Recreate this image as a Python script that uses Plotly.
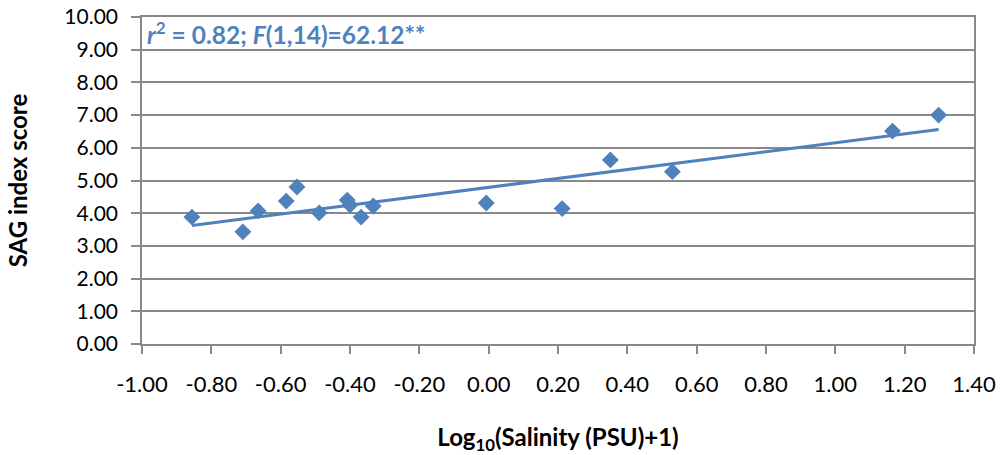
import numpy as np
import plotly.graph_objects as go

salinity_log = [-0.856, -0.709, -0.665, -0.584, -0.553, -0.489, -0.408, -0.400, -0.368, -0.333,
                -0.007, 0.212, 0.351, 0.530, 1.165, 1.298]
sag_score = [3.88, 3.43, 4.07, 4.37, 4.80, 4.01, 4.40, 4.25, 3.88, 4.22,
             4.31, 4.14, 5.63, 5.27, 6.51, 7.00]

x_ticks = [-1.0, -0.8, -0.6, -0.4, -0.2, 0.0, 0.2, 0.4, 0.6, 0.8, 1.0, 1.2, 1.4]
y_ticks = [0, 1, 2, 3, 4, 5, 6, 7, 8, 9, 10]
stat_text = "<b><i>r</i><sup>2</sup> = 0.82; <i>F</i>(1,14)=62.12**</b>"

BLUE = "#4F81BD"
GRID = "#898989"
FONT = "Lato, Open Sans, sans-serif"

slope, intercept = np.polyfit(salinity_log, sag_score, 1)
trend_x = [min(salinity_log), max(salinity_log)]
trend_y = [slope * v + intercept for v in trend_x]

fig = go.Figure()
fig.add_trace(go.Scatter(x=trend_x, y=trend_y, mode="lines",
                         line=dict(color=BLUE, width=3), showlegend=False, hoverinfo="skip"))
fig.add_trace(go.Scatter(x=salinity_log, y=sag_score, mode="markers",
                         marker=dict(symbol="diamond", size=13, color=BLUE),
                         showlegend=False))

fig.update_layout(
    width=1004, height=455,
    margin=dict(l=142, r=30, t=17, b=111),
    paper_bgcolor="white", plot_bgcolor="white",
    font=dict(family=FONT, size=22, color="#000000"),
    xaxis=dict(range=[-1.0, 1.4], tickvals=x_ticks,
               ticktext=[f"{v:.2f}" for v in x_ticks],
               showgrid=False, zeroline=False, showline=True, linecolor=GRID, linewidth=1.5,
               mirror=True, ticks="outside", ticklen=8, tickcolor=GRID, tickwidth=1.5,
               tickfont=dict(size=22), ticklabelstandoff=12, automargin=False,
               title=dict(text="<b>Log<sub>10</sub>(Salinity (PSU)+1)</b>", font=dict(size=24), standoff=40)),
    yaxis=dict(range=[0, 10], tickvals=y_ticks,
               ticktext=[f"{v:.2f}" for v in y_ticks],
               showgrid=True, gridcolor=GRID, gridwidth=1.5, zeroline=False,
               showline=True, linecolor=GRID, linewidth=1.5, mirror=True,
               ticks="outside", ticklen=9, tickcolor=GRID, tickwidth=1.5,
               tickfont=dict(size=21), ticklabelstandoff=9, automargin=False,
               title=dict(text="<b>SAG index score</b>", font=dict(size=24), standoff=30)),
)

fig.add_annotation(x=0.004, y=1.006, xref="paper", yref="paper", xanchor="left", yanchor="top",
                   text=stat_text, showarrow=False, font=dict(size=24.5, color=BLUE, family=FONT))

fig.write_html("out.html", config={"displayModeBar": False},
               post_script="document.body.style.margin='0';")
